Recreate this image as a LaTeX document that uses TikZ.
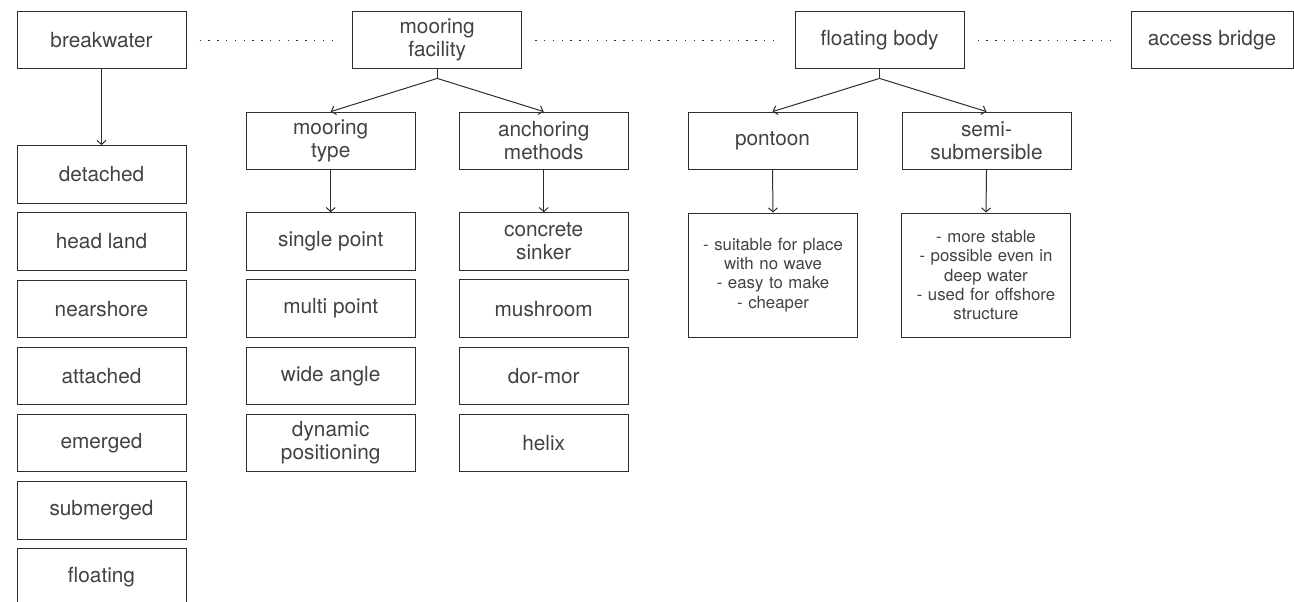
\documentclass[tikz,border=0pt]{standalone}
\usepackage{fontspec}
\setmainfont{TeX Gyre Heros}
\usetikzlibrary{arrows.meta}

\definecolor{boxline}{HTML}{2E2E2E}
\definecolor{boxtext}{HTML}{424242}

\newcommand{\labelfont}{\fontsize{10.4}{11.6}\selectfont}
\newcommand{\notefont}{\fontsize{8.4}{9.65}\selectfont}

\tikzset{
  box/.style={draw=boxline, line width=0.5pt, text=boxtext, font=\labelfont,
    minimum width=84.5pt, minimum height=28.7pt, inner sep=0pt, align=center},
  notebox/.style={box, font=\notefont, minimum height=62pt, text width=82pt},
  link/.style={draw=boxline, line width=0.5pt,
    -{Straight Barb[length=2pt,width=4.5pt]}},
  dots/.style={draw=boxline, line width=0.7pt, dash pattern=on 0.7pt off 3.7pt,
    shorten <=6.5pt, shorten >=6.5pt},
}

\begin{document}
\begin{tikzpicture}[x=0.5pt, y=-0.5pt]
\useasboundingbox (0,0) rectangle (1294,601);

% top row
\node[box] (bw) at (101.5,40.2) {breakwater};
\node[box] (mf) at (437.2,40.2) {mooring\\facility};
\node[box] (fb) at (879.5,40.2) {floating body};
\node[box, minimum width=81pt] (ab) at (1212,40.2) {access bridge};

\draw[dots] (bw.east) -- (mf.west);
\draw[dots] (mf.east) -- (fb.west);
\draw[dots] (fb.east) -- (ab.west);

% breakwater types
\node[box] (b1) at (101.5,174.3) {detached};
\node[box] (b2) at (101.5,241.5) {head land};
\node[box] (b3) at (101.5,308.7) {nearshore};
\node[box] (b4) at (101.5,375.9) {attached};
\node[box] (b5) at (101.5,443.1) {emerged};
\node[box] (b6) at (101.5,510.3) {submerged};
\node[box] (b7) at (101.5,577.5) {floating};
\draw[link] (bw.south) -- (b1.north);

% mooring facility branch
\node[box] (mt) at (330.7,140.8) {mooring\\type};
\node[box] (am) at (543.7,140.8) {anchoring\\methods};
\coordinate (mfj) at ([yshift=-4.5pt]mf.south);
\draw[boxline, line width=0.5pt] (mf.south) -- (mfj);
\draw[link] (mfj) -- (mt.north);
\draw[link] (mfj) -- (am.north);

\node[box] (m1) at (330.7,241.4) {single point};
\node[box] (m2) at (330.7,308.6) {multi point};
\node[box] (m3) at (330.7,375.8) {wide angle};
\node[box] (m4) at (330.7,443.0) {dynamic\\positioning};
\draw[link] (mt.south) -- (m1.north);

\node[box] (a1) at (543.7,241.4) {concrete\\sinker};
\node[box] (a2) at (543.7,308.6) {mushroom};
\node[box] (a3) at (543.7,375.8) {dor-mor};
\node[box] (a4) at (543.7,443.0) {helix};
\draw[link] (am.south) -- (a1.north);

% floating body branch
\node[box] (pt) at (772.5,140.8) {pontoon};
\node[box] (ss) at (986.5,140.8) {semi-\\submersible};
\coordinate (fbj) at ([yshift=-4.5pt]fb.south);
\draw[boxline, line width=0.5pt] (fb.south) -- (fbj);
\draw[link] (fbj) -- (pt.north);
\draw[link] (fbj) -- (ss.north);

\node[notebox] (ptn) at (773,275) {- suitable for place\\with no wave\\- easy to make\\- cheaper};
\node[notebox] (ssn) at (986,275) {- more stable\\- possible even in\\deep water\\- used for offshore\\structure};
\draw[link] (pt.south) -- (ptn.north);
\draw[link] (ss.south) -- (ssn.north);
\end{tikzpicture}
\end{document}
